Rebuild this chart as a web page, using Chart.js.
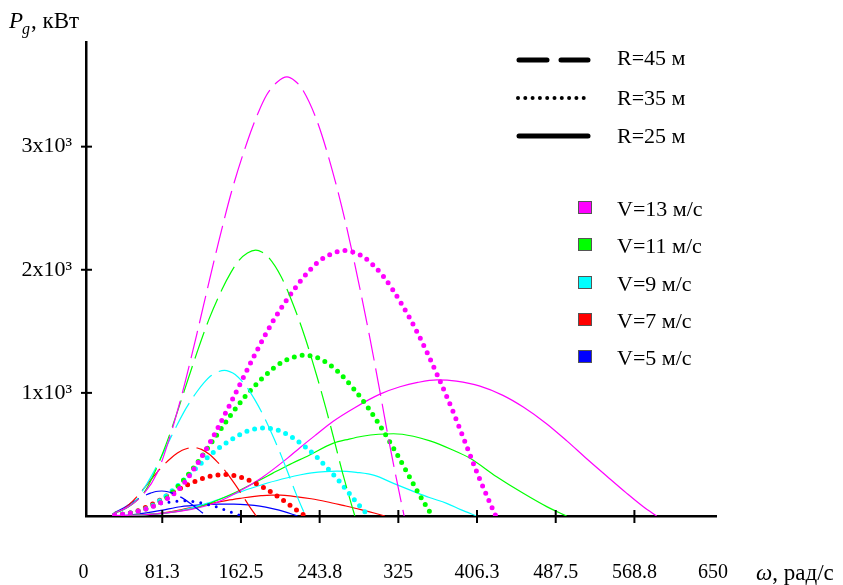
<!DOCTYPE html>
<html>
<head>
<meta charset="utf-8">
<script src="https://cdn.jsdelivr.net/npm/chart.js@4.4.1/dist/chart.umd.min.js"></script>
<style>
  html, body { margin: 0; padding: 0; background: #fff; }
  #wrap { width: 843px; height: 585px; }
</style>
</head>
<body>
<div id="wrap"><canvas id="myChart" width="843" height="585"></canvas></div>
<script>
// omega (rad/s) and Pg (kW), one pair of arrays per curve
// R = 45 m (dashed)
var w45v13 = [32, 45, 61, 76, 87, 102, 117, 128, 138, 153, 169, 180, 189, 200, 210, 218, 226, 241, 256, 270, 285, 296, 306, 316, 327, 331];
var p45v13 = [25, 70, 170, 350, 590, 1000, 1480, 1850, 2180, 2640, 3040, 3270, 3420, 3525, 3566, 3535, 3465, 3210, 2830, 2400, 1860, 1430, 1010, 580, 150, 0];
var w45v11 = [32, 38.1, 51.6, 64.3, 73.6, 86.3, 99.0, 108.3, 116.8, 129.5, 143.0, 152.3, 159.9, 169.2, 177.7, 184.5, 191.2, 203.9, 216.6, 228.5, 241.2, 250.5, 258.9, 267.4, 276.7, 280.1];
var p45v11 = [27, 42, 103, 212, 357, 606, 897, 1121, 1321, 1599, 1842, 1981, 2072, 2136, 2160, 2142, 2099, 1945, 1714, 1454, 1127, 866, 612, 351, 91, 0];
var w45v9 = [32, 42.2, 52.6, 60.2, 70.6, 81.0, 88.6, 95.5, 105.9, 117.0, 124.6, 130.8, 138.5, 145.4, 150.9, 156.5, 166.8, 177.2, 186.9, 197.3, 204.9, 211.8, 218.8, 226.4, 229.2];
var p45v9 = [26, 56, 116, 196, 332, 491, 614, 723, 876, 1009, 1085, 1135, 1170, 1183, 1173, 1150, 1065, 939, 796, 617, 474, 335, 192, 50, 0];
var w45v7 = [32, 40.9, 46.8, 54.9, 63.0, 68.9, 74.3, 82.4, 91.0, 96.9, 101.8, 107.7, 113.1, 117.4, 121.7, 129.8, 137.8, 145.4, 153.5, 159.4, 164.8, 170.2, 176.1, 178.2];
var p45v7 = [26, 55, 92, 156, 231, 289, 340, 412, 475, 511, 534, 550, 557, 552, 541, 501, 442, 375, 290, 223, 158, 91, 23, 0];
var w45v5 = [32, 33.5, 39.2, 45.0, 49.2, 53.1, 58.8, 65.0, 69.2, 72.7, 76.9, 80.8, 83.8, 86.9, 92.7, 98.5, 103.8, 109.6, 113.8, 117.7, 121.5, 125.8, 127.3];
var p45v5 = [29, 34, 57, 84, 105, 124, 150, 173, 186, 195, 201, 203, 201, 197, 183, 161, 137, 106, 81, 57, 33, 9, 0];
// R = 35 m (dotted)
var w35v13 = [32, 41.1, 57.9, 78.4, 97.7, 111.9, 131.1, 150.4, 164.6, 177.4, 196.7, 217.3, 231.4, 243.0, 257.1, 270.0, 280.3, 290.6, 309.9, 329.1, 347.1, 366.4, 380.6, 393.4, 406.3, 420.4, 425.6];
var p35v13 = [9, 15, 42, 103, 212, 357, 605, 895, 1119, 1319, 1597, 1839, 1978, 2069, 2132, 2157, 2138, 2096, 1942, 1712, 1452, 1125, 865, 611, 351, 91, 0];
var w35v11 = [32, 34.8, 49.0, 66.4, 82.7, 94.6, 111.0, 127.3, 139.3, 150.1, 166.5, 183.9, 195.8, 205.6, 217.6, 228.5, 237.2, 245.9, 262.2, 278.5, 293.7, 310.1, 322.0, 332.9, 343.8, 355.7, 360.1];
var p35v11 = [8, 9, 26, 62, 128, 216, 366, 542, 678, 799, 968, 1114, 1198, 1253, 1292, 1307, 1296, 1270, 1176, 1037, 880, 682, 524, 370, 213, 55, 0];
var w35v9 = [32, 40.1, 54.3, 67.6, 77.4, 90.8, 104.1, 113.9, 122.8, 136.2, 150.4, 160.2, 168.2, 178.0, 186.9, 194.0, 201.2, 214.5, 227.9, 240.3, 253.7, 263.5, 272.4, 281.3, 291.1, 294.6];
var p35v9 = [8, 14, 34, 70, 118, 201, 297, 371, 438, 530, 610, 656, 686, 708, 716, 710, 696, 644, 568, 482, 373, 287, 203, 116, 30, 0];
var w35v7 = [32, 42.2, 52.6, 60.2, 70.6, 81.0, 88.6, 95.5, 105.9, 117.0, 124.6, 130.8, 138.5, 145.4, 150.9, 156.5, 166.8, 177.2, 186.9, 197.3, 204.9, 211.8, 218.8, 226.4, 229.2];
var p35v7 = [7, 16, 33, 56, 94, 140, 175, 206, 249, 287, 309, 323, 333, 337, 334, 327, 303, 267, 227, 176, 135, 95, 55, 14, 0];
var w35v5 = [32, 37.6, 43.0, 50.4, 57.9, 63.3, 68.2, 75.7, 83.6, 89.0, 93.5, 98.9, 103.8, 107.8, 111.8, 119.2, 126.6, 133.5, 140.9, 146.4, 151.3, 156.3, 161.7, 163.7];
var p35v5 = [7, 12, 20, 34, 51, 64, 75, 91, 105, 113, 118, 121, 123, 122, 119, 110, 97, 83, 64, 49, 35, 20, 5, 0];
// R = 25 m (solid)
var w25v13 = [32, 57.6, 81, 109.8, 136.8, 156.6, 183.6, 210.6, 223.4, 240, 257.8, 280, 306, 326.7, 345, 365, 385, 409.3, 433, 454, 478, 499, 519.5, 540, 560, 578, 591.7];
var p25v13 = [3, 8, 22, 52, 108, 182, 309, 470, 555, 660, 770, 880, 990, 1050, 1085, 1105, 1095, 1055, 980, 885, 750, 610, 465, 325, 190, 75, 0];
var w25v11 = [32, 48.7, 68.5, 92.9, 115.8, 132.5, 155.4, 178.2, 195.0, 210.2, 233.0, 257.4, 274.2, 287.9, 304.6, 320, 340.5, 357.7, 380, 399, 426.5, 454, 478.2, 498.8];
var p25v11 = [2, 5, 13, 32, 65, 110, 187, 277, 346, 408, 494, 590, 625, 648, 664, 668, 648, 610, 540, 469, 319, 184, 76, 0];
var w25v9 = [32, 39.9, 56.1, 76.0, 94.7, 108.4, 127.1, 145.8, 159.5, 172.0, 190.7, 210.6, 224.3, 235.5, 249.2, 261.7, 271.7, 281.6, 300.3, 320, 340.5, 357, 374.9, 390, 405.9];
var p25v9 = [2, 3, 7, 17, 36, 60, 102, 152, 189, 223, 270, 311, 335, 350, 361, 365, 362, 355, 330, 265, 200, 150, 103, 50, 0];
var w25v7 = [32, 43.6, 59.1, 73.7, 84.3, 98.9, 113.4, 124.1, 133.8, 148.3, 163.8, 174.5, 183.2, 193.8, 203.5, 216.5, 235, 251, 268, 285.4, 300, 311.1];
var p25v7 = [2, 3, 8, 17, 28, 48, 71, 89, 105, 127, 146, 158, 165, 170, 170, 160, 140, 116, 86, 54, 24, 0];
var w25v5 = [32, 50, 65, 80, 100, 120, 140, 155, 170, 182, 195, 208, 216.5, 221];
var p25v5 = [0, 10, 25, 45, 75, 90, 97, 97, 91, 80, 60, 34, 12, 0];

var speedLabels = ['V=13 м/с', 'V=11 м/с', 'V=9 м/с', 'V=7 м/с', 'V=5 м/с'];
var speedColors = ['#ff00ff', '#00ff00', '#00ffff', '#ff0000', '#0000ff'];
var radiusLabels = ['R=45 м', 'R=35 м', 'R=25 м'];
var xTicks = [0, 81.25, 162.5, 243.75, 325, 406.25, 487.5, 568.75, 650];
var xLabels = ['0', '81.3', '162.5', '243.8', '325', '406.3', '487.5', '568.8', '650'];
var yTicks = [1000, 2000, 3000];
var yLabels = ['1x10³', '2x10³', '3x10³'];

var curves = [
  [w45v13, p45v13, 45, 0], [w45v11, p45v11, 45, 1], [w45v9, p45v9, 45, 2], [w45v7, p45v7, 45, 3], [w45v5, p45v5, 45, 4],
  [w35v13, p35v13, 35, 0], [w35v11, p35v11, 35, 1], [w35v9, p35v9, 35, 2], [w35v7, p35v7, 35, 3], [w35v5, p35v5, 35, 4],
  [w25v13, p25v13, 25, 0], [w25v11, p25v11, 25, 1], [w25v9, p25v9, 25, 2], [w25v7, p25v7, 25, 3], [w25v5, p25v5, 25, 4]
];

var datasets = curves.map(function (c) {
  var ds = {
    label: radiusLabels[[45, 35, 25].indexOf(c[2])] + ' ' + speedLabels[c[3]],
    data: c[0].map(function (x, i) { return {x: x, y: c[1][i]}; }),
    borderColor: speedColors[c[3]],
    pointRadius: 0,
    fill: false,
    cubicInterpolationMode: 'monotone',
    borderWidth: 1.2
  };
  if (c[2] === 45) {
    ds.borderDash = [28, 8];
  } else if (c[2] === 35) {
    ds.borderWidth = c[3] === 4 ? 3 : 5;
    ds.borderDash = [0, 8];
    ds.borderCapStyle = 'round';
  }
  return ds;
});

var serif = '"Liberation Serif", "DejaVu Serif", serif';

var decor = {
  id: 'decor',
  afterDraw: function (chart) {
    var ctx = chart.ctx, xs = chart.scales.x, ys = chart.scales.y;
    ctx.save();
    // tick marks crossing the axes
    ctx.strokeStyle = '#000';
    ctx.lineWidth = 2;
    xTicks.slice(1, -1).forEach(function (v) {
      var px = xs.getPixelForValue(v);
      ctx.beginPath(); ctx.moveTo(px, ys.bottom - 6); ctx.lineTo(px, ys.bottom + 7); ctx.stroke();
    });
    yTicks.forEach(function (v) {
      var py = ys.getPixelForValue(v);
      ctx.beginPath(); ctx.moveTo(xs.left - 5, py); ctx.lineTo(xs.left + 6, py); ctx.stroke();
    });

    // axis titles
    ctx.fillStyle = '#000';
    ctx.textAlign = 'left';
    ctx.textBaseline = 'alphabetic';
    ctx.font = 'italic 23px ' + serif; ctx.fillText('P', 9, 28);
    ctx.font = 'italic 16px ' + serif; ctx.fillText('g', 22, 34);
    ctx.font = '23px ' + serif; ctx.fillText(', кВт', 31, 28);
    ctx.font = 'italic 23px ' + serif; ctx.fillText('ω', 756, 580);
    var ww = ctx.measureText('ω').width;
    ctx.font = '23px ' + serif; ctx.fillText(', рад/с', 756 + ww, 580);

    // line style legend
    ctx.lineCap = 'round';
    ctx.lineWidth = 5;
    ctx.beginPath();
    ctx.moveTo(519, 60); ctx.lineTo(547, 60);
    ctx.moveTo(561, 60); ctx.lineTo(588, 60);
    ctx.stroke();
    ctx.lineWidth = 4;
    ctx.setLineDash([0, 7.3]);
    ctx.beginPath(); ctx.moveTo(518, 98); ctx.lineTo(591, 98); ctx.stroke();
    ctx.setLineDash([]);
    ctx.lineWidth = 5;
    ctx.beginPath(); ctx.moveTo(519, 136); ctx.lineTo(588, 136); ctx.stroke();
    ctx.font = '22px ' + serif;
    [65, 105, 143].forEach(function (y, i) { ctx.fillText(radiusLabels[i], 617, y); });

    // colour legend
    ctx.lineWidth = 1;
    ctx.strokeStyle = '#555';
    [216, 253, 291, 328, 365].forEach(function (y, i) {
      ctx.fillStyle = speedColors[i];
      ctx.fillRect(578, y - 15, 14, 13);
      ctx.strokeRect(578.5, y - 14.5, 13, 12);
      ctx.fillStyle = '#000';
      ctx.fillText(speedLabels[i], 617, y);
    });
    ctx.restore();
  }
};

var ctx = document.getElementById('myChart').getContext('2d');
var myChart = new Chart(ctx, {
  type: 'line',
  data: { datasets: datasets },
  options: {
    responsive: false,
    animation: false,
    devicePixelRatio: 1,
    layout: { padding: { top: 42, right: 127, bottom: 0, left: 0 } },
    scales: {
      x: {
        type: 'linear',
        min: 2.5,
        max: 653,
        grid: { display: false, drawTicks: false },
        border: { display: true, color: '#000', width: 2.5 },
        afterBuildTicks: function (s) { s.ticks = xTicks.map(function (v) { return {value: v}; }); },
        afterFit: function (s) { s.height = 69; },
        ticks: {
          autoSkip: false,
          maxRotation: 0,
          padding: 45,
          color: '#000',
          font: { family: serif, size: 20 },
          callback: function (v, i) { return xLabels[i]; }
        }
      },
      y: {
        min: 0,
        max: 3850,
        grid: { display: false, drawTicks: false },
        border: { display: true, color: '#000', width: 2.5 },
        afterBuildTicks: function (s) { s.ticks = yTicks.map(function (v) { return {value: v}; }); },
        afterFit: function (s) { s.width = 86; },
        ticks: {
          padding: 14,
          color: '#000',
          font: { family: serif, size: 22 },
          callback: function (v, i) { return yLabels[i]; }
        }
      }
    },
    plugins: {
      legend: { display: false },
      tooltip: { enabled: false }
    }
  },
  plugins: [decor]
});
</script>
</body>
</html>
